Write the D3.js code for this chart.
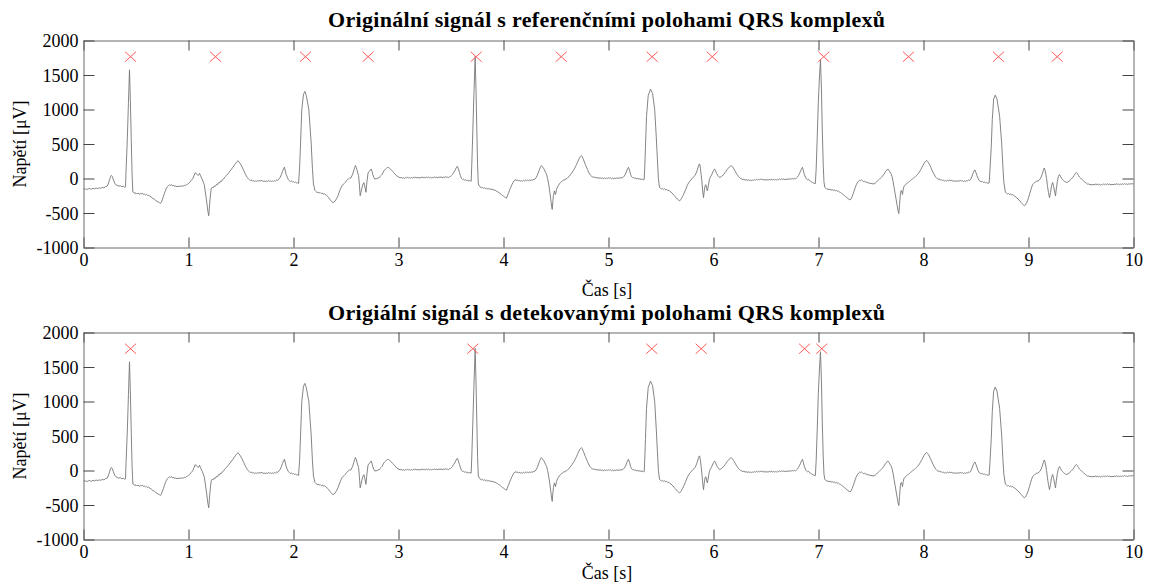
<!DOCTYPE html>
<html>
<head>
<meta charset="utf-8">
<script src="https://cdn.jsdelivr.net/npm/d3@7"></script>
<style>
  body { margin: 0; background: #fff; }
  svg { display: block; }
  text { font-family: "Liberation Serif", "Times New Roman", serif; fill: #000; }
</style>
</head>
<body>
<svg id="chart" width="1152" height="585"></svg>
<script>
// ECG trace: [time s, voltage uV]
var ecgSamples = [
  [0,-155],[0.015,-148],[0.03,-160],[0.045,-150],[0.06,-145],[0.075,-157],[0.09,-142],[0.105,-150],
  [0.12,-138],[0.135,-147],[0.15,-135],[0.165,-143],[0.18,-128],[0.195,-136],[0.21,-118],[0.225,-112],
  [0.235,-80],[0.25,-10],[0.258,30],[0.265,45],[0.275,25],[0.285,-20],[0.30,-75],[0.31,-92],
  [0.32,-100],[0.335,-110],[0.35,-104],[0.365,-118],[0.38,-112],[0.39,-125],[0.400,-122],
  [0.405,100],[0.418,600],[0.428,1100],[0.438,1575],[0.446,1150],[0.455,550],[0.463,50],[0.470,-195],
  [0.48,-205],[0.49,-218],[0.50,-206],[0.51,-222],[0.52,-214],[0.53,-228],[0.54,-218],[0.55,-224],
  [0.56,-212],[0.57,-230],[0.58,-225],[0.59,-238],[0.60,-230],[0.61,-245],[0.62,-240],[0.63,-258],
  [0.645,-268],[0.66,-290],[0.675,-300],[0.69,-322],[0.70,-330],[0.715,-345],[0.725,-352],[0.733,-362],
  [0.742,-340],[0.75,-310],[0.76,-265],[0.77,-220],[0.78,-175],[0.79,-140],[0.80,-118],[0.81,-102],
  [0.82,-92],[0.83,-100],[0.84,-90],[0.85,-108],[0.86,-100],[0.87,-115],[0.88,-106],[0.89,-120],
  [0.90,-110],[0.91,-118],[0.92,-108],[0.93,-116],[0.94,-104],[0.95,-112],[0.96,-98],[0.97,-104],
  [0.98,-90],[0.99,-85],[1.00,-68],[1.01,-60],[1.025,-30],[1.04,-5],[1.055,50],[1.065,85],
  [1.075,65],[1.085,55],[1.095,45],[1.105,75],[1.115,40],[1.13,-10],[1.15,-90],[1.17,-300],
  [1.185,-480],[1.193,-540],[1.205,-300],[1.216,-150],[1.225,-128],[1.235,-135],[1.245,-108],[1.255,-115],
  [1.265,-88],[1.275,-92],[1.285,-62],[1.295,-66],[1.305,-38],[1.315,-42],[1.325,-12],[1.335,-5],
  [1.345,20],[1.355,35],[1.365,50],[1.375,70],[1.385,85],[1.395,110],[1.405,125],[1.415,150],
  [1.425,165],[1.435,190],[1.445,212],[1.455,232],[1.465,250],[1.472,258],[1.48,240],[1.49,222],
  [1.50,195],[1.51,170],[1.52,135],[1.53,105],[1.54,70],[1.55,40],[1.56,15],[1.57,-5],
  [1.58,-18],[1.59,-28],[1.60,-22],[1.61,-38],[1.62,-30],[1.63,-44],[1.64,-34],[1.65,-42],
  [1.66,-30],[1.67,-40],[1.68,-28],[1.69,-38],[1.70,-26],[1.71,-44],[1.72,-34],[1.73,-46],
  [1.74,-36],[1.75,-42],[1.76,-30],[1.77,-40],[1.78,-32],[1.79,-44],[1.80,-36],[1.81,-42],
  [1.82,-30],[1.83,-36],[1.84,-22],[1.85,-25],[1.86,-10],[1.875,20],[1.885,60],[1.895,100],
  [1.905,140],[1.914,165],[1.922,110],[1.93,60],[1.94,20],[1.95,-15],[1.96,-30],[1.97,-42],
  [1.98,-38],[1.99,-50],[2.00,-45],[2.01,-58],[2.02,-52],[2.03,-66],[2.04,-60],[2.048,-72],
  [2.058,150],[2.067,500],[2.079,1000],[2.095,1220],[2.108,1262],[2.122,1200],[2.146,1000],[2.169,500],
  [2.18,150],[2.19,-80],[2.205,-175],[2.215,-190],[2.225,-205],[2.235,-196],[2.245,-212],[2.255,-204],
  [2.265,-220],[2.275,-210],[2.285,-228],[2.295,-220],[2.305,-236],[2.315,-242],[2.325,-262],[2.335,-278],
  [2.345,-300],[2.355,-318],[2.365,-335],[2.375,-352],[2.385,-340],[2.395,-330],[2.405,-305],[2.415,-280],
  [2.425,-245],[2.435,-200],[2.445,-160],[2.455,-125],[2.465,-100],[2.475,-82],[2.485,-70],[2.495,-55],
  [2.505,-30],[2.515,-15],[2.525,-5],[2.535,10],[2.545,5],[2.555,35],[2.565,70],[2.575,120],
  [2.583,160],[2.59,188],[2.598,160],[2.605,120],[2.612,80],[2.62,40],[2.627,-80],[2.635,-250],
  [2.643,-200],[2.65,-150],[2.66,-90],[2.67,-60],[2.68,-120],[2.69,-200],[2.70,-40],[2.71,80],
  [2.72,100],[2.73,120],[2.74,138],[2.748,100],[2.755,60],[2.765,15],[2.775,-10],[2.785,0],
  [2.795,-5],[2.805,12],[2.815,8],[2.825,30],[2.835,45],[2.845,62],[2.855,95],[2.865,120],
  [2.875,135],[2.885,150],[2.895,158],[2.905,162],[2.915,145],[2.925,135],[2.935,118],[2.945,100],
  [2.955,85],[2.965,68],[2.975,50],[2.985,38],[2.995,25],[3.005,18],[3.015,10],[3.025,15],
  [3.035,4],[3.045,12],[3.055,2],[3.065,14],[3.075,6],[3.085,18],[3.095,8],[3.105,16],
  [3.115,4],[3.125,14],[3.135,6],[3.145,18],[3.155,10],[3.165,20],[3.175,8],[3.185,16],
  [3.195,6],[3.205,14],[3.215,10],[3.225,22],[3.235,12],[3.245,18],[3.255,8],[3.265,20],
  [3.275,12],[3.285,22],[3.295,10],[3.305,18],[3.315,8],[3.325,16],[3.335,12],[3.345,24],
  [3.355,14],[3.365,20],[3.375,10],[3.385,22],[3.395,14],[3.405,24],[3.415,12],[3.425,20],
  [3.435,14],[3.445,26],[3.455,16],[3.465,22],[3.475,14],[3.485,24],[3.495,30],[3.505,45],
  [3.515,60],[3.525,85],[3.535,110],[3.545,140],[3.555,170],[3.562,176],[3.57,140],[3.58,90],
  [3.59,40],[3.60,0],[3.61,-15],[3.62,-10],[3.63,-25],[3.64,-18],[3.65,-32],[3.66,-25],
  [3.67,-38],[3.68,-30],[3.692,-38],[3.698,200],[3.708,700],[3.718,1200],[3.730,1770],[3.738,1300],
  [3.746,700],[3.753,200],[3.760,-80],[3.775,-120],[3.79,-135],[3.80,-128],[3.81,-142],[3.82,-135],
  [3.83,-148],[3.84,-140],[3.85,-152],[3.86,-145],[3.87,-158],[3.88,-150],[3.89,-162],[3.90,-158],
  [3.91,-170],[3.92,-168],[3.93,-182],[3.94,-186],[3.95,-200],[3.96,-205],[3.97,-222],[3.98,-232],
  [3.99,-248],[4.00,-255],[4.01,-268],[4.02,-278],[4.028,-285],[4.04,-240],[4.05,-200],[4.06,-160],
  [4.07,-125],[4.08,-90],[4.09,-60],[4.10,-35],[4.11,-18],[4.12,-28],[4.13,-20],[4.14,-35],
  [4.15,-26],[4.16,-40],[4.17,-30],[4.18,-38],[4.19,-26],[4.20,-36],[4.21,-24],[4.22,-34],
  [4.23,-22],[4.24,-32],[4.25,-20],[4.26,-30],[4.27,-18],[4.28,-25],[4.29,-12],[4.30,-10],
  [4.31,10],[4.32,40],[4.33,80],[4.34,120],[4.35,160],[4.36,186],[4.37,170],[4.385,140],
  [4.40,90],[4.41,60],[4.42,0],[4.43,-80],[4.44,-180],[4.45,-300],[4.458,-400],[4.464,-448],
  [4.47,-330],[4.475,-250],[4.485,-180],[4.495,-232],[4.505,-160],[4.515,-120],[4.525,-95],[4.535,-70],
  [4.545,-58],[4.555,-40],[4.565,-32],[4.575,-18],[4.585,-20],[4.595,-5],[4.605,0],[4.615,18],
  [4.625,30],[4.635,50],[4.645,70],[4.655,92],[4.665,115],[4.675,140],[4.685,170],[4.695,200],
  [4.705,235],[4.715,270],[4.725,300],[4.735,322],[4.742,332],[4.75,315],[4.76,280],[4.77,240],
  [4.78,200],[4.79,165],[4.80,130],[4.81,95],[4.82,65],[4.83,45],[4.84,30],[4.85,20],
  [4.86,25],[4.87,10],[4.88,18],[4.89,5],[4.90,14],[4.91,2],[4.92,12],[4.93,0],
  [4.94,10],[4.95,-4],[4.96,8],[4.97,-2],[4.98,10],[4.99,0],[5.00,12],[5.01,2],
  [5.02,10],[5.03,-4],[5.04,6],[5.05,-6],[5.06,8],[5.07,-2],[5.08,10],[5.09,0],
  [5.10,12],[5.11,2],[5.12,14],[5.13,8],[5.14,18],[5.15,35],[5.16,60],[5.17,95],
  [5.18,135],[5.19,162],[5.20,120],[5.21,60],[5.22,25],[5.23,10],[5.24,15],[5.25,0],
  [5.26,8],[5.27,-6],[5.28,2],[5.29,-10],[5.30,-4],[5.31,-14],[5.32,-8],[5.335,-18],
  [5.34,-15],[5.345,150],[5.352,450],[5.362,900],[5.378,1200],[5.40,1296],[5.42,1230],[5.44,1000],
  [5.455,600],[5.465,300],[5.475,0],[5.486,-130],[5.495,-140],[5.505,-152],[5.515,-145],[5.525,-158],
  [5.535,-150],[5.545,-165],[5.555,-158],[5.565,-175],[5.575,-170],[5.585,-188],[5.595,-195],[5.605,-212],
  [5.615,-225],[5.625,-245],[5.635,-262],[5.645,-280],[5.655,-298],[5.665,-310],[5.676,-326],[5.685,-310],
  [5.695,-290],[5.705,-262],[5.715,-230],[5.725,-195],[5.735,-160],[5.745,-120],[5.755,-85],[5.765,-60],
  [5.775,-35],[5.785,-20],[5.795,-5],[5.805,15],[5.815,30],[5.825,45],[5.835,80],[5.845,120],
  [5.855,170],[5.862,205],[5.868,210],[5.875,150],[5.882,60],[5.89,-50],[5.897,-180],[5.905,-278],
  [5.912,-180],[5.92,-100],[5.928,-90],[5.935,-150],[5.942,-180],[5.95,-110],[5.96,-20],[5.97,20],
  [5.98,45],[5.99,80],[6.00,115],[6.01,138],[6.02,110],[6.03,72],[6.04,45],[6.05,25],
  [6.06,15],[6.07,22],[6.08,35],[6.09,48],[6.10,62],[6.11,85],[6.12,105],[6.13,128],
  [6.14,148],[6.15,165],[6.16,178],[6.17,186],[6.18,170],[6.19,148],[6.20,122],[6.21,95],
  [6.22,68],[6.23,45],[6.24,25],[6.25,12],[6.26,0],[6.27,-8],[6.28,-15],[6.29,-10],
  [6.30,-24],[6.31,-16],[6.32,-28],[6.33,-18],[6.34,-30],[6.35,-20],[6.36,-32],[6.37,-22],
  [6.38,-28],[6.39,-14],[6.40,-24],[6.41,-12],[6.42,-22],[6.43,-10],[6.44,-20],[6.45,-8],
  [6.46,-18],[6.47,-10],[6.48,-24],[6.49,-14],[6.50,-26],[6.51,-16],[6.52,-24],[6.53,-12],
  [6.54,-22],[6.55,-10],[6.56,-20],[6.57,-12],[6.58,-24],[6.59,-14],[6.60,-22],[6.61,-10],
  [6.62,-18],[6.63,-6],[6.64,-16],[6.65,-4],[6.66,-14],[6.67,-6],[6.68,-18],[6.69,-8],
  [6.70,-16],[6.71,-4],[6.72,-12],[6.73,-2],[6.74,-10],[6.75,0],[6.76,-8],[6.77,2],
  [6.78,-4],[6.79,5],[6.80,20],[6.81,45],[6.82,75],[6.83,110],[6.84,145],[6.847,162],
  [6.855,120],[6.865,60],[6.875,20],[6.885,-5],[6.895,-18],[6.905,-10],[6.915,-32],[6.925,-40],
  [6.935,-52],[6.945,-58],[6.955,-68],[6.970,-74],[6.978,150],[6.988,600],[6.998,1100],[7.010,1500],
  [7.019,1720],[7.028,1300],[7.036,700],[7.045,200],[7.052,-50],[7.06,-130],[7.07,-140],[7.08,-158],
  [7.09,-150],[7.10,-162],[7.11,-155],[7.12,-168],[7.13,-160],[7.14,-172],[7.15,-166],[7.16,-178],
  [7.17,-172],[7.18,-185],[7.19,-182],[7.20,-196],[7.21,-202],[7.22,-215],[7.23,-225],[7.24,-238],
  [7.25,-250],[7.26,-265],[7.27,-278],[7.28,-290],[7.29,-300],[7.30,-312],[7.31,-295],[7.32,-262],
  [7.33,-222],[7.34,-178],[7.35,-130],[7.36,-90],[7.37,-62],[7.38,-40],[7.39,-25],[7.40,-32],
  [7.41,-20],[7.42,-35],[7.43,-45],[7.44,-40],[7.45,-55],[7.46,-50],[7.47,-66],[7.48,-60],
  [7.49,-74],[7.50,-68],[7.51,-80],[7.52,-72],[7.53,-82],[7.54,-65],[7.55,-50],[7.56,-40],
  [7.57,-25],[7.58,-10],[7.59,5],[7.60,18],[7.61,35],[7.62,55],[7.63,80],[7.64,102],
  [7.65,122],[7.66,138],[7.67,120],[7.68,95],[7.69,70],[7.70,30],[7.71,-40],[7.72,-130],
  [7.73,-220],[7.74,-310],[7.75,-400],[7.758,-470],[7.765,-508],[7.772,-380],[7.78,-220],[7.785,-180],
  [7.79,-175],[7.795,-205],[7.80,-232],[7.807,-160],[7.815,-112],[7.825,-95],[7.835,-80],[7.845,-68],
  [7.855,-55],[7.865,-45],[7.875,-30],[7.885,-18],[7.895,-5],[7.905,5],[7.915,18],[7.925,30],
  [7.935,45],[7.945,62],[7.955,80],[7.965,105],[7.975,132],[7.985,160],[7.995,190],[8.005,218],
  [8.015,240],[8.025,255],[8.032,260],[8.04,245],[8.05,222],[8.06,192],[8.07,160],[8.08,125],
  [8.09,92],[8.10,62],[8.11,35],[8.12,15],[8.13,0],[8.14,-12],[8.15,-5],[8.16,-22],
  [8.17,-15],[8.18,-32],[8.19,-24],[8.20,-38],[8.21,-28],[8.22,-36],[8.23,-24],[8.24,-34],
  [8.25,-22],[8.26,-32],[8.27,-26],[8.28,-40],[8.29,-30],[8.30,-44],[8.31,-34],[8.32,-42],
  [8.33,-30],[8.34,-40],[8.35,-28],[8.36,-38],[8.37,-30],[8.38,-44],[8.39,-34],[8.40,-42],
  [8.41,-30],[8.42,-36],[8.43,-22],[8.44,-28],[8.45,-10],[8.46,25],[8.47,70],[8.48,105],
  [8.49,124],[8.50,85],[8.51,40],[8.52,0],[8.53,-30],[8.54,-40],[8.55,-48],[8.56,-42],
  [8.57,-56],[8.58,-50],[8.59,-62],[8.60,-58],[8.61,-68],[8.625,-66],[8.632,100],[8.645,450],
  [8.655,850],[8.668,1150],[8.683,1208],[8.70,1150],[8.725,900],[8.745,500],[8.755,200],[8.765,-50],
  [8.78,-200],[8.79,-212],[8.80,-225],[8.81,-218],[8.82,-232],[8.83,-225],[8.84,-238],[8.85,-232],
  [8.86,-248],[8.87,-255],[8.88,-270],[8.89,-282],[8.90,-298],[8.91,-312],[8.92,-330],[8.93,-348],
  [8.94,-365],[8.95,-382],[8.96,-398],[8.97,-385],[8.98,-360],[8.99,-325],[9.00,-280],[9.01,-230],
  [9.02,-175],[9.03,-125],[9.04,-88],[9.05,-70],[9.06,-55],[9.07,-48],[9.08,-36],[9.09,-40],
  [9.10,-25],[9.11,-10],[9.12,20],[9.13,60],[9.14,110],[9.15,152],[9.158,120],[9.165,64],
  [9.172,0],[9.18,-100],[9.19,-200],[9.20,-278],[9.21,-200],[9.22,-100],[9.23,-58],[9.24,-120],
  [9.25,-200],[9.257,-252],[9.265,-150],[9.275,-40],[9.285,30],[9.295,58],[9.305,30],[9.315,0],
  [9.325,-15],[9.335,-30],[9.345,-45],[9.355,-52],[9.365,-58],[9.375,-50],[9.385,-40],[9.395,-25],
  [9.405,-10],[9.415,5],[9.425,22],[9.435,45],[9.445,70],[9.455,88],[9.465,72],[9.475,45],
  [9.485,22],[9.495,8],[9.505,-8],[9.515,-20],[9.525,-35],[9.535,-48],[9.545,-60],[9.555,-72],
  [9.565,-84],[9.575,-78],[9.585,-92],[9.595,-85],[9.605,-96],[9.615,-84],[9.625,-92],[9.635,-80],
  [9.645,-90],[9.655,-78],[9.665,-94],[9.675,-84],[9.685,-96],[9.695,-86],[9.705,-92],[9.715,-80],
  [9.725,-90],[9.735,-78],[9.745,-88],[9.755,-76],[9.765,-90],[9.775,-80],[9.785,-94],[9.795,-84],
  [9.805,-92],[9.815,-80],[9.825,-88],[9.835,-76],[9.845,-86],[9.855,-78],[9.865,-90],[9.875,-80],
  [9.885,-88],[9.895,-76],[9.905,-86],[9.915,-74],[9.925,-84],[9.935,-78],[9.945,-88],[9.955,-76],
  [9.965,-84],[9.975,-72],[9.985,-80],[10.0,-76]
];

var refPositions = [0.448, 1.257, 2.114, 2.711, 3.740, 4.550, 5.416, 5.988, 7.050, 7.857, 8.714, 9.273];
var detPositions = [0.448, 3.708, 5.412, 5.883, 6.867, 7.031];
var markerLevel = 1765;

var xTicks = [0, 1, 2, 3, 4, 5, 6, 7, 8, 9, 10];
var yTicks = [-1000, -500, 0, 500, 1000, 1500, 2000];

var titles = [
  "Originální signál s referenčními polohami QRS komplexů",
  "Origiální signál s detekovanými polohami QRS komplexů"
];
var xLabel = "Čas [s]";
var yLabel = "Napětí [μV]";

var svg = d3.select("#chart");

var x = d3.scaleLinear().domain([0, 10]).range([83.5, 1133.5]);
var plain = function(d) { return String(d); };   // MATLAB style: no thousands sep, hyphen minus

// one subplot
function panel(top, bottom, title, titleY, xLabelY, marks) {
  var y = d3.scaleLinear().domain([-1000, 2000]).range([bottom, top]);
  var g = svg.append("g");

  // ticks inward on all four sides
  var ax = g.append("g").attr("transform", "translate(0," + bottom + ")")
    .call(d3.axisBottom(x).tickValues(xTicks).tickSize(-10).tickSizeOuter(0).tickPadding(0).tickFormat(plain));
  ax.selectAll("text").attr("y", 18).attr("dy", null);

  g.append("g").attr("transform", "translate(0," + top + ")")
    .call(d3.axisTop(x).tickValues(xTicks).tickSize(-10).tickSizeOuter(0).tickFormat(""));

  var ay = g.append("g").attr("transform", "translate(" + x(0) + ",0)")
    .call(d3.axisLeft(y).tickValues(yTicks).tickSize(-11).tickSizeOuter(0).tickPadding(0).tickFormat(plain));
  ay.selectAll("text").attr("x", -5).attr("dy", "0.34em");

  g.append("g").attr("transform", "translate(" + x(10) + ",0)")
    .call(d3.axisRight(y).tickValues(yTicks).tickSize(-11).tickSizeOuter(0).tickFormat(""));

  g.selectAll("g").attr("font-family", null).attr("font-size", null);
  g.selectAll(".domain").attr("stroke", "#6a6a6a");
  g.selectAll(".tick line").attr("stroke", "#444");
  g.selectAll(".tick text").attr("fill", "#000")
    .style("font-family", "'Liberation Serif', 'Times New Roman', serif").style("font-size", "18px");

  var line = d3.line()
    .x(function(d) { return x(d[0]); })
    .y(function(d) { return y(d[1]); });

  g.append("path")
    .datum(ecgSamples)
    .attr("d", line)
    .attr("fill", "none")
    .attr("stroke", "#767676")
    .attr("stroke-width", 0.9);

  var m = g.append("g").selectAll("g.mark")
    .data(marks)
    .enter().append("g")
    .attr("transform", function(d) { return "translate(" + x(d) + "," + y(markerLevel) + ")"; });
  m.append("path")
    .attr("d", "M-5.5,-5L5.5,5M-5.5,5L5.5,-5")
    .attr("stroke", "#ff5a5a")
    .attr("stroke-width", 1)
    .attr("fill", "none");

  g.append("text")
    .attr("x", 606.5).attr("y", titleY)
    .attr("text-anchor", "middle")
    .attr("textLength", 557)
    .style("font-size", "22px").style("font-weight", "bold")
    .text(title);

  g.append("text")
    .attr("x", 607).attr("y", xLabelY)
    .attr("text-anchor", "middle")
    .style("font-size", "18px")
    .text(xLabel);

  g.append("text")
    .attr("transform", "translate(26," + (top + bottom) / 2 + ") rotate(-90)")
    .attr("text-anchor", "middle")
    .style("font-size", "18px")
    .text(yLabel);
}

panel(40.5, 247.5, titles[0], 27, 296, refPositions);
panel(332.5, 539.5, titles[1], 320, 579, detPositions);
</script>
</body>
</html>
